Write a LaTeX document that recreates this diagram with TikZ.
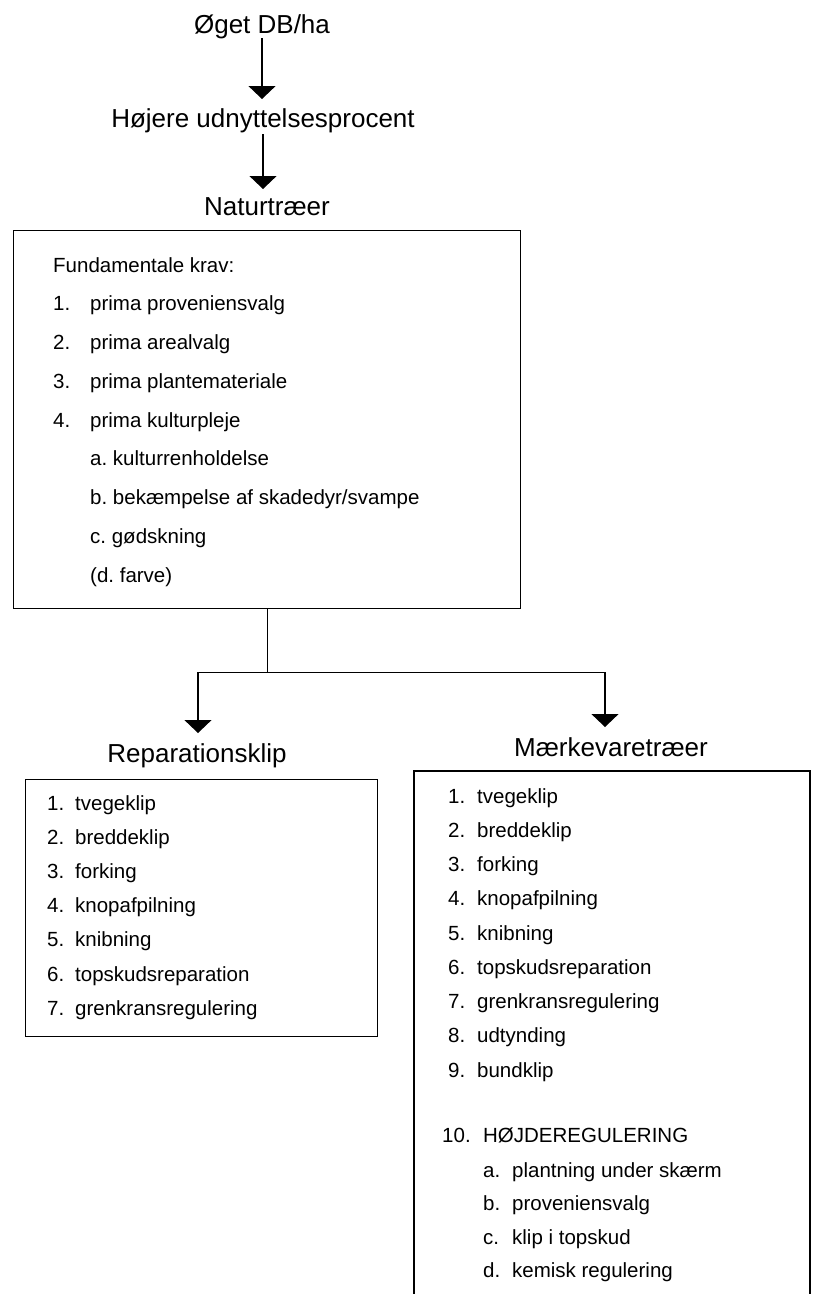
\documentclass[tikz,border=0pt]{standalone}
\usepackage{fontspec}
\setmainfont{Liberation Sans}
\usetikzlibrary{arrows.meta,calc}
\frenchspacing
\newcommand{\headfont}{\fontsize{26}{30}\selectfont}
\newcommand{\bodyfont}{\fontsize{20.5}{24}\selectfont}
\newcommand{\num}[2]{\makebox[#1][l]{#2}}
\begin{document}
\begin{tikzpicture}[x=1pt,y=-1pt,
  line/.style={line width=1.3pt},
  arr/.style={line width=1.3pt,-{Triangle[width=27pt,length=13pt]}},
  head/.style={anchor=base,inner sep=0pt,font=\headfont},
  item/.style={anchor=base west,inner sep=0pt,font=\bodyfont},
  frame/.style={draw,line width=1.3pt,rectangle,inner sep=0pt,anchor=north west}]
\useasboundingbox[fill=white] (0,0) rectangle (818,1294);

% headings
\node[head] (oget) at (262,33) {Øget DB/ha};
\node[head] (hoj) at (263,127) {Højere udnyttelsesprocent};
\node[head] (nat) at (267,215) {Naturtræer};
\draw[arr] ($(oget.base)+(0,5)$) -- ($(oget.base |- hoj.base)+(0,-28)$);
\draw[arr] ($(hoj.base)+(0,7)$) -- ($(hoj.base |- nat.base)+(0,-26)$);

% main box
\node[frame,minimum width=507pt,minimum height=378pt] (nbox) at (13,230) {};
\node[item] (f0) at (53,272) {Fundamentale krav:};
\node[item] (f1) at (53,310.75) {\num{37pt}{1.}prima proveniensvalg};
\node[item] (f2) at (53,349.5) {\num{37pt}{2.}prima arealvalg};
\node[item] (f3) at (53,388.25) {\num{37pt}{3.}prima plantemateriale};
\node[item] (f4) at (53,427) {\num{37pt}{4.}prima kulturpleje};
\node[item] (fa) at (90,465.75) {a. kulturrenholdelse};
\node[item] (fb) at (90,504.5) {b. bekæmpelse af skadedyr/svampe};
\node[item] (fc) at (90,543.25) {c. gødskning};
\node[item] (fd) at (90,582) {(d. farve)};

% branch headings
\node[head] (rep) at (197,762) {Reparationsklip};
\node[head] (mk) at (611,756) {Mærkevaretræer};

% connectors
\coordinate (j) at ($(nbox.south)+(0,63)$);
\draw[line] (nbox.south) -- (j);
\draw[arr] (j) -| ($(rep.base)+(1,-29)$);
\draw[arr] (j) -| ($(mk.base)+(-6,-29)$);

% left box
\node[frame,minimum width=352pt,minimum height=257pt] (lbox) at (25,779) {};
\node[item] (l1) at (47,810) {\num{28pt}{1.}tvegeklip};
\node[item] (l2) at (47,844.2) {\num{28pt}{2.}breddeklip};
\node[item] (l3) at (47,878.4) {\num{28pt}{3.}forking};
\node[item] (l4) at (47,912.6) {\num{28pt}{4.}knopafpilning};
\node[item] (l5) at (47,946.8) {\num{28pt}{5.}knibning};
\node[item] (l6) at (47,981) {\num{28pt}{6.}topskudsreparation};
\node[item] (l7) at (47,1015.2) {\num{28pt}{7.}grenkransregulering};

% right box (open at the bottom)
\coordinate (rbl) at (414,1294);
\coordinate (rtl) at (414,771);
\coordinate (rtr) at (810,771);
\coordinate (rbr) at (810,1294);
\draw[line] (rbl) -- (rtl) -- (rtr) -- (rbr);
\node[item] (r1) at (448,803) {\num{29pt}{1.}tvegeklip};
\node[item] (r2) at (448,837.25) {\num{29pt}{2.}breddeklip};
\node[item] (r3) at (448,871.5) {\num{29pt}{3.}forking};
\node[item] (r4) at (448,905.75) {\num{29pt}{4.}knopafpilning};
\node[item] (r5) at (448,940) {\num{29pt}{5.}knibning};
\node[item] (r6) at (448,974.25) {\num{29pt}{6.}topskudsreparation};
\node[item] (r7) at (448,1008.5) {\num{29pt}{7.}grenkransregulering};
\node[item] (r8) at (448,1042.75) {\num{29pt}{8.}udtynding};
\node[item] (r9) at (448,1077) {\num{29pt}{9.}bundklip};
\node[item] (r10) at (442,1142) {\num{41pt}{10.}HØJDEREGULERING};
\node[item] (ra) at (483,1177) {\num{29pt}{a.}plantning under skærm};
\node[item] (rb) at (483,1210) {\num{29pt}{b.}proveniensvalg};
\node[item] (rc) at (483,1244) {\num{29pt}{c.}klip i topskud};
\node[item] (rd) at (483,1277) {\num{29pt}{d.}kemisk regulering};
\end{tikzpicture}
\end{document}
